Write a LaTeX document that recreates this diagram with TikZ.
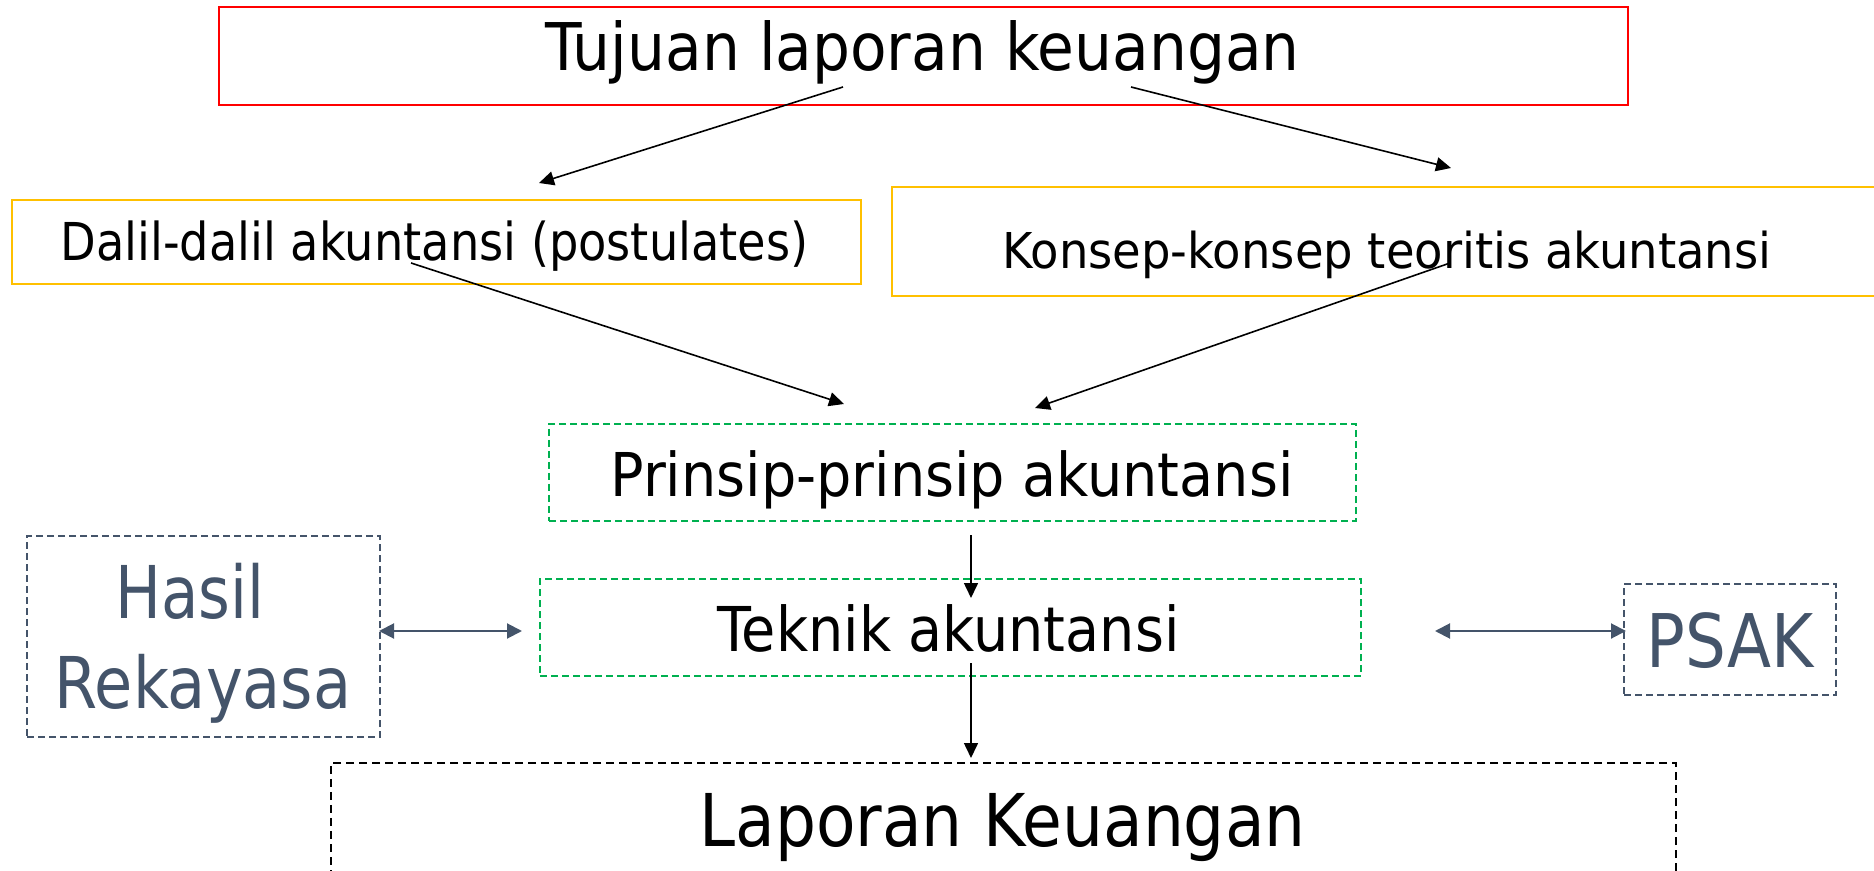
\documentclass[tikz,border=0pt]{standalone}
\usepackage{fontspec}
\setmainfont{DejaVu Sans}
\usepackage{graphicx}
\usetikzlibrary{arrows.meta}
\definecolor{pptred}{HTML}{FF0000}
\definecolor{pptorange}{HTML}{FFC000}
\definecolor{pptgreen}{HTML}{00B050}
\definecolor{pptslate}{HTML}{44546A}
\newcommand{\fw}[2]{\resizebox{#1}{\height}{#2}}
\tikzset{
  boxbase/.style={rectangle, inner sep=0pt, anchor=north west, line width=1pt},
  redbox/.style={boxbase, draw=pptred},
  orangebox/.style={boxbase, draw=pptorange},
  greenbox/.style={boxbase, draw=pptgreen, dash pattern=on 3.5pt off 2pt},
  slatebox/.style={boxbase, draw=pptslate, dash pattern=on 3.5pt off 2pt},
  blackbox/.style={boxbase, draw=black, dash pattern=on 4pt off 2.5pt},
  lbl/.style={anchor=base west, inner sep=0pt, text=black},
  slatelbl/.style={lbl, text=pptslate},
  conn/.style={line width=0.8pt, -{Triangle[length=7.5pt,width=7pt]}},
  biconn/.style={line width=1pt, draw=pptslate, {Triangle[length=7.5pt,width=7.5pt]}-{Triangle[length=7.5pt,width=7.5pt]}}
}
\begin{document}
\begin{tikzpicture}[x=0.5pt,y=-0.5pt]
\useasboundingbox (0,0) rectangle (1874,871);
\begin{scope}
\clip (0,0) rectangle (1874,871);
% boxes
\node[redbox, minimum width=704.5pt, minimum height=49pt] (bTitle) at (218,6) {};
\node[orangebox, minimum width=424.5pt, minimum height=42pt] (bDalil) at (11,199) {};
\node[orangebox, minimum width=504.5pt, minimum height=54.5pt] (bKonsep) at (891,186) {};
\node[greenbox, minimum width=403.5pt, minimum height=48.5pt] (bPrinsip) at (548,423) {};
\node[greenbox, minimum width=410.5pt, minimum height=48.5pt] (bTeknik) at (539,578) {};
\node[slatebox, minimum width=176.5pt, minimum height=100.5pt] (bHasil) at (26,535) {};
\node[slatebox, minimum width=106pt, minimum height=55.5pt] (bPSAK) at (1623,583) {};
\node[blackbox, minimum width=672.5pt, minimum height=57.5pt] (bLap) at (330,762) {};
\end{scope}
% texts
\node[lbl] (tTitle) at (545,71) {\fontsize{32.9pt}{36pt}\selectfont\fw{377pt}{Tujuan laporan keuangan}};
\node[lbl] (tDalil) at (60,261) {\fontsize{26.1pt}{30pt}\selectfont\fw{374pt}{Dalil-dalil akuntansi (postulates)}};
\node[lbl] (tKonsep) at (1002,269) {\fontsize{24.7pt}{28pt}\selectfont\fw{384.5pt}{Konsep-konsep teoritis akuntansi}};
\node[lbl] (tPrinsip) at (610,496) {\fontsize{30.2pt}{34pt}\selectfont\fw{341.5pt}{Prinsip-prinsip akuntansi}};
\node[lbl] (tTeknik) at (717,651) {\fontsize{30.9pt}{34pt}\selectfont\fw{231pt}{Teknik akuntansi}};
\node[slatelbl] (tHasil) at (115,618) {\fontsize{36.4pt}{40pt}\selectfont\fw{74.5pt}{Hasil}};
\node[slatelbl] (tRek) at (54,708) {\fontsize{35.7pt}{40pt}\selectfont\fw{148.5pt}{Rekayasa}};
\node[slatelbl] (tPSAK) at (1646,667) {\fontsize{37pt}{40pt}\selectfont\fw{83.5pt}{PSAK}};
\node[lbl] (tLap) at (699,846) {\fontsize{36.4pt}{40pt}\selectfont\fw{303pt}{Laporan Keuangan}};
% connector end points
\coordinate (a1s) at (843,87);  \coordinate (a1e) at (539,183);
\coordinate (a2s) at (1131,87); \coordinate (a2e) at (1451,168);
\coordinate (a3s) at (411,263); \coordinate (a3e) at (844,404);
\coordinate (a4s) at (1450,263);\coordinate (a4e) at (1035,408);
\coordinate (a5s) at (971,535); \coordinate (a5e) at (971,598);
\coordinate (a6s) at (971,663); \coordinate (a6e) at (971,758);
\coordinate (a7s) at (379,631); \coordinate (a7e) at (522,631);
\coordinate (a8s) at (1435,631);\coordinate (a8e) at (1626,631);
\draw[conn] (a1s) -- (a1e);
\draw[conn] (a2s) -- (a2e);
\draw[conn] (a3s) -- (a3e);
\draw[conn] (a4s) -- (a4e);
\draw[conn] (a5s) -- (a5e);
\draw[conn] (a6s) -- (a6e);
\draw[biconn] (a7s) -- (a7e);
\draw[biconn] (a8s) -- (a8e);
\end{tikzpicture}
\end{document}
